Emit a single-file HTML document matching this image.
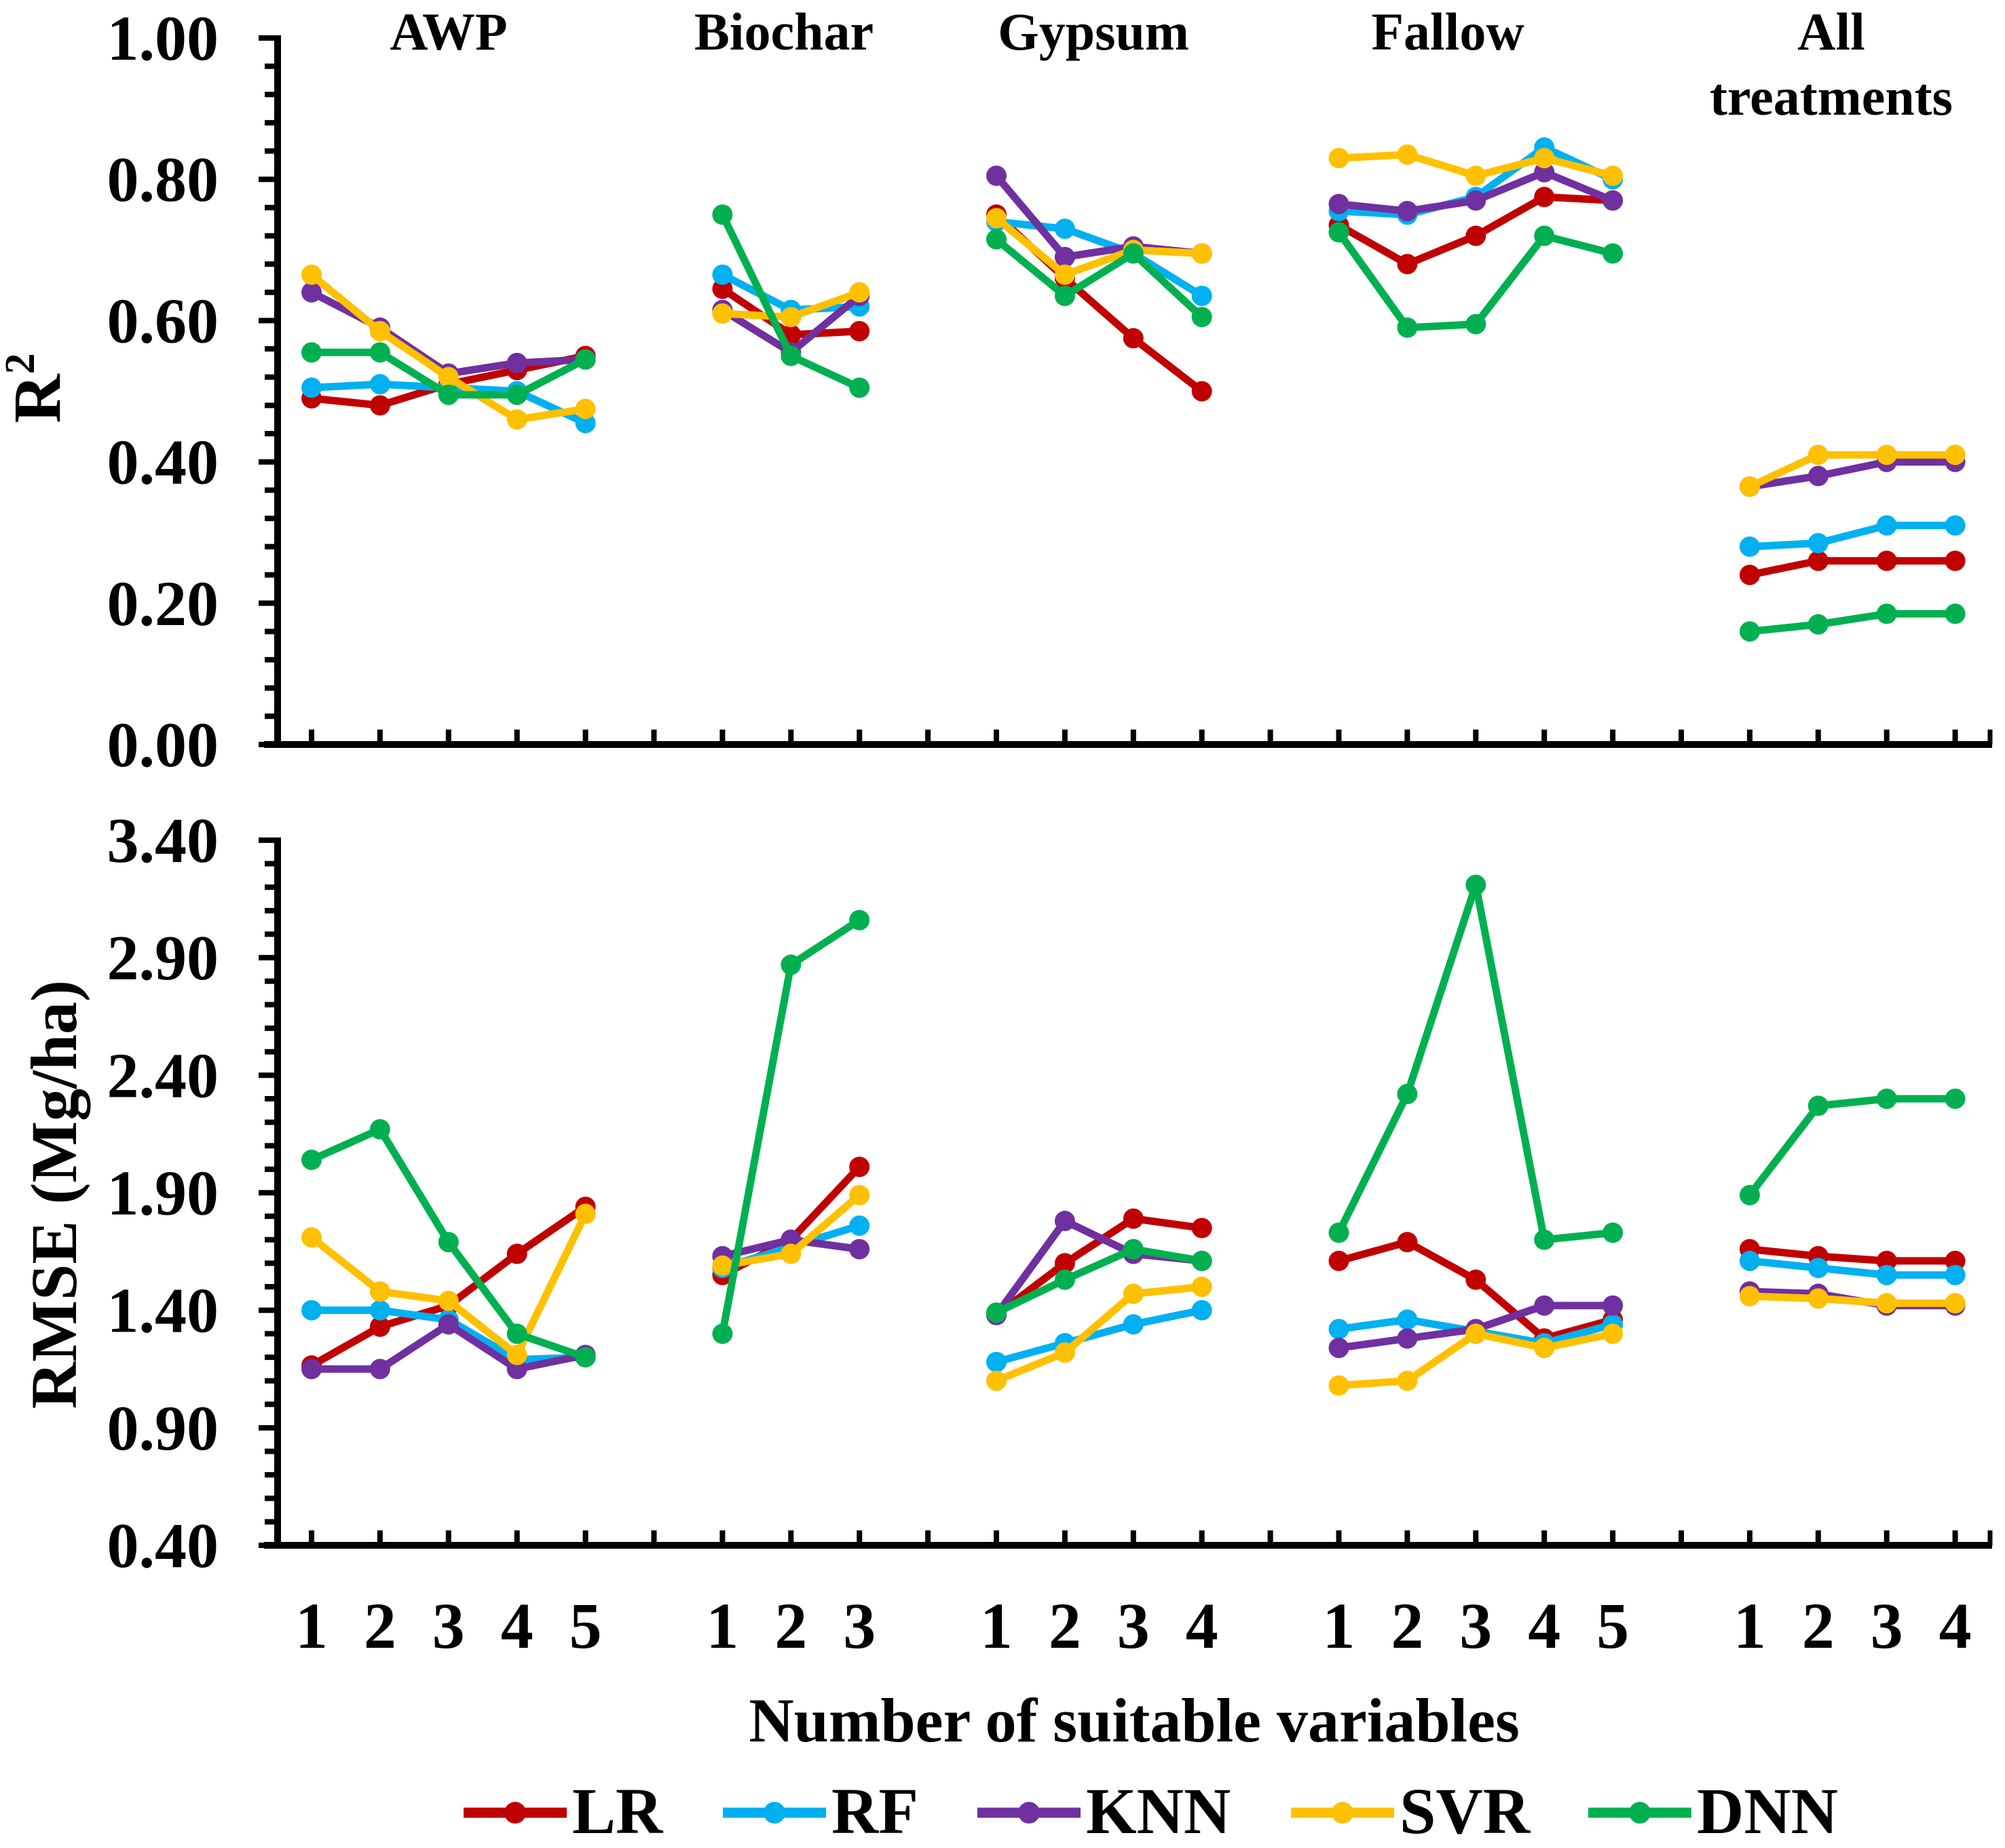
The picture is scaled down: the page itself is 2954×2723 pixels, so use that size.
<!DOCTYPE html>
<html><head><meta charset="utf-8">
<style>
html,body{margin:0;padding:0;background:#fff;}
svg{display:block;}
text{font-family:"Liberation Serif","Times New Roman",serif;font-weight:bold;fill:#000;}
</style></head>
<body>
<svg id="chart" width="2954" height="2723" viewBox="0 0 2954 2723" xmlns="http://www.w3.org/2000/svg">
<g id="axes"></g>
<g id="series"></g>
<text x="661" y="73" font-size="78" text-anchor="middle">AWP</text>
<text x="1155" y="73" font-size="78" text-anchor="middle">Biochar</text>
<text x="1611" y="73" font-size="78" text-anchor="middle">Gypsum</text>
<text x="2133" y="73" font-size="78" text-anchor="middle">Fallow</text>
<text x="2698" y="73" font-size="78" text-anchor="middle">All</text>
<text x="2698" y="169" font-size="78" text-anchor="middle">treatments</text>
<text transform="translate(88,572) rotate(-90)" font-size="100" text-anchor="middle">R<tspan font-size="62" dy="-38">2</tspan></text>
<text transform="translate(112,1760) rotate(-90)" font-size="96" text-anchor="middle">RMSE (Mg/ha)</text>
<text x="1671" y="2566" font-size="92" text-anchor="middle">Number of suitable variables</text>
<g id="legend"></g>
</svg>
<script>
const NS="http://www.w3.org/2000/svg";
const models=["LR","RF","KNN","SVR","DNN"];
const colors=["#C00000","#00B0F0","#7030A0","#FFC000","#00B050"];
const slots=[0,1,2,3,4,6,7,8,10,11,12,13,15,16,17,18,19,21,22,23,24];
const xLabels=["1","2","3","4","5","1","2","3","1","2","3","4","1","2","3","4","5","1","2","3","4"];
const groupSizes=[5,3,4,5,4];
const r2LR=[0.49,0.48,0.51,0.53,0.55, 0.645,0.58,0.585, 0.75,0.66,0.575,0.50, 0.735,0.68,0.72,0.775,0.77, 0.24,0.26,0.26,0.26];
const r2RF=[0.505,0.51,0.505,0.50,0.455, 0.665,0.615,0.62, 0.74,0.73,0.695,0.635, 0.755,0.75,0.775,0.845,0.80, 0.28,0.285,0.31,0.31];
const r2KNN=[0.64,0.59,0.525,0.54,0.545, 0.615,0.555,0.635, 0.805,0.69,0.705,0.695, 0.765,0.755,0.77,0.81,0.77, 0.365,0.38,0.40,0.40];
const r2SVR=[0.665,0.585,0.52,0.46,0.475, 0.61,0.605,0.64, 0.745,0.665,0.70,0.695, 0.83,0.835,0.805,0.83,0.805, 0.365,0.41,0.41,0.41];
const r2DNN=[0.555,0.555,0.495,0.495,0.545, 0.75,0.55,0.505, 0.715,0.635,0.695,0.605, 0.725,0.59,0.595,0.72,0.695, 0.16,0.17,0.185,0.185];
const rmseLR=[1.165,1.33,1.42,1.64,1.84, 1.55,1.70,2.01, 1.38,1.60,1.79,1.75, 1.61,1.69,1.53,1.28,1.36, 1.66,1.63,1.61,1.61];
const rmseRF=[1.40,1.40,1.36,1.19,1.20, 1.58,1.67,1.76, 1.18,1.26,1.34,1.40, 1.32,1.36,1.31,1.26,1.34, 1.61,1.58,1.55,1.55];
const rmseKNN=[1.15,1.15,1.34,1.15,1.21, 1.63,1.70,1.66, 1.38,1.78,1.64,1.61, 1.24,1.28,1.32,1.42,1.42, 1.48,1.47,1.42,1.42];
const rmseSVR=[1.71,1.48,1.44,1.21,1.81, 1.59,1.64,1.89, 1.10,1.22,1.47,1.50, 1.08,1.10,1.30,1.24,1.30, 1.46,1.45,1.43,1.43];
const rmseDNN=[2.04,2.17,1.69,1.30,1.20, 1.30,2.87,3.06, 1.39,1.53,1.66,1.61, 1.73,2.32,3.21,1.70,1.73, 1.89,2.27,2.30,2.30];
const r2Ticks=["0.00","0.20","0.40","0.60","0.80","1.00"];
const rmseTicks=["0.40","0.90","1.40","1.90","2.40","2.90","3.40"];

const r2Series=[r2LR,r2RF,r2KNN,r2SVR,r2DNN];
const rmseSeries=[rmseLR,rmseRF,rmseKNN,rmseSVR,rmseDNN];

const X0=409, X1=2935, SX0=459, SW=100.9;
function xs(slot){return SX0+slot*SW;}
const pTop={y0:1097,y1:56,vmin:0,vmax:1,minor:0.04};
const pBot={y0:2277,y1:1238,vmin:0.4,vmax:3.4,minor:0.1};
function ys(p,v){return p.y0-(v-p.vmin)/(p.vmax-p.vmin)*(p.y0-p.y1);}

function el(tag,attrs,parent){const e=document.createElementNS(NS,tag);for(const k in attrs)e.setAttribute(k,attrs[k]);parent.appendChild(e);return e;}

const axesG=document.getElementById('axes');
function drawAxes(p,ticks,name){
  const g=el('g',{},axesG);
  
  
  el('line',{x1:X0,y1:p.y1-4,x2:X0,y2:p.y0+4,stroke:'#000','stroke-width':10},g);
  el('line',{x1:X0-20,y1:p.y0,x2:X1,y2:p.y0,stroke:'#000','stroke-width':10},g);
  const n=Math.round((p.vmax-p.vmin)/p.minor);
  for(let i=0;i<=n;i++){
    const y=ys(p,p.vmin+i*p.minor);
    el('line',{x1:X0-(i%5===0?28:19),y1:y,x2:X0,y2:y,stroke:'#000','stroke-width':8},g);
  }
  ticks.forEach(t=>{
    const tx=el('text',{x:322,y:ys(p,parseFloat(t))+32,'font-size':94,'text-anchor':'end'},g);
    tx.textContent=t;
    
    
  });
  for(let s=0;s<=24;s++){
    const x=xs(s);
    el('line',{x1:x,y1:p.y0,x2:x,y2:p.y0-22,stroke:'#000','stroke-width':8},g);
  }
  el('line',{x1:X1-3,y1:p.y0,x2:X1-3,y2:p.y0-22,stroke:'#000','stroke-width':7},g);
}
drawAxes(pTop,r2Ticks,'r2');
drawAxes(pBot,rmseTicks,'rmse');
xLabels.forEach((l,i)=>{
  const t=el('text',{x:xs(slots[i]),y:2428,'font-size':96,'text-anchor':'middle'},axesG);
  t.textContent=l;
  
  
});

const sg=document.getElementById('series');
function drawSeries(p,all,name){
  all.forEach((vals,m)=>{
    const g=el('g',{},sg);
    
    
    let idx=0;
    groupSizes.forEach(sz=>{
      const pts=[];
      for(let k=0;k<sz;k++){pts.push(xs(slots[idx+k])+','+ys(p,vals[idx+k]));}
      el('polyline',{points:pts.join(' '),fill:'none',stroke:colors[m],'stroke-width':11,'stroke-linejoin':'round'},g);
      for(let k=0;k<sz;k++){
        const c=el('circle',{cx:xs(slots[idx+k]),cy:ys(p,vals[idx+k]),r:15,fill:colors[m]},g);
        
        
      }
      idx+=sz;
    });
  });
}
drawSeries(pTop,r2Series,'r2');
drawSeries(pBot,rmseSeries,'rmse');

const lg=document.getElementById('legend');
const legX=[683,1065,1440,1902,2340];
models.forEach((m,i)=>{
  const g=el('g',{},lg);
  
  
  el('line',{x1:legX[i],y1:2671,x2:legX[i]+152,y2:2671,stroke:colors[i],'stroke-width':15},g);
  el('circle',{cx:legX[i]+76,cy:2671,r:16,fill:colors[i]},g);
  const t=el('text',{x:legX[i]+160,y:2701,'font-size':96},g);
  t.textContent=m;
});
</script>
</body></html>
